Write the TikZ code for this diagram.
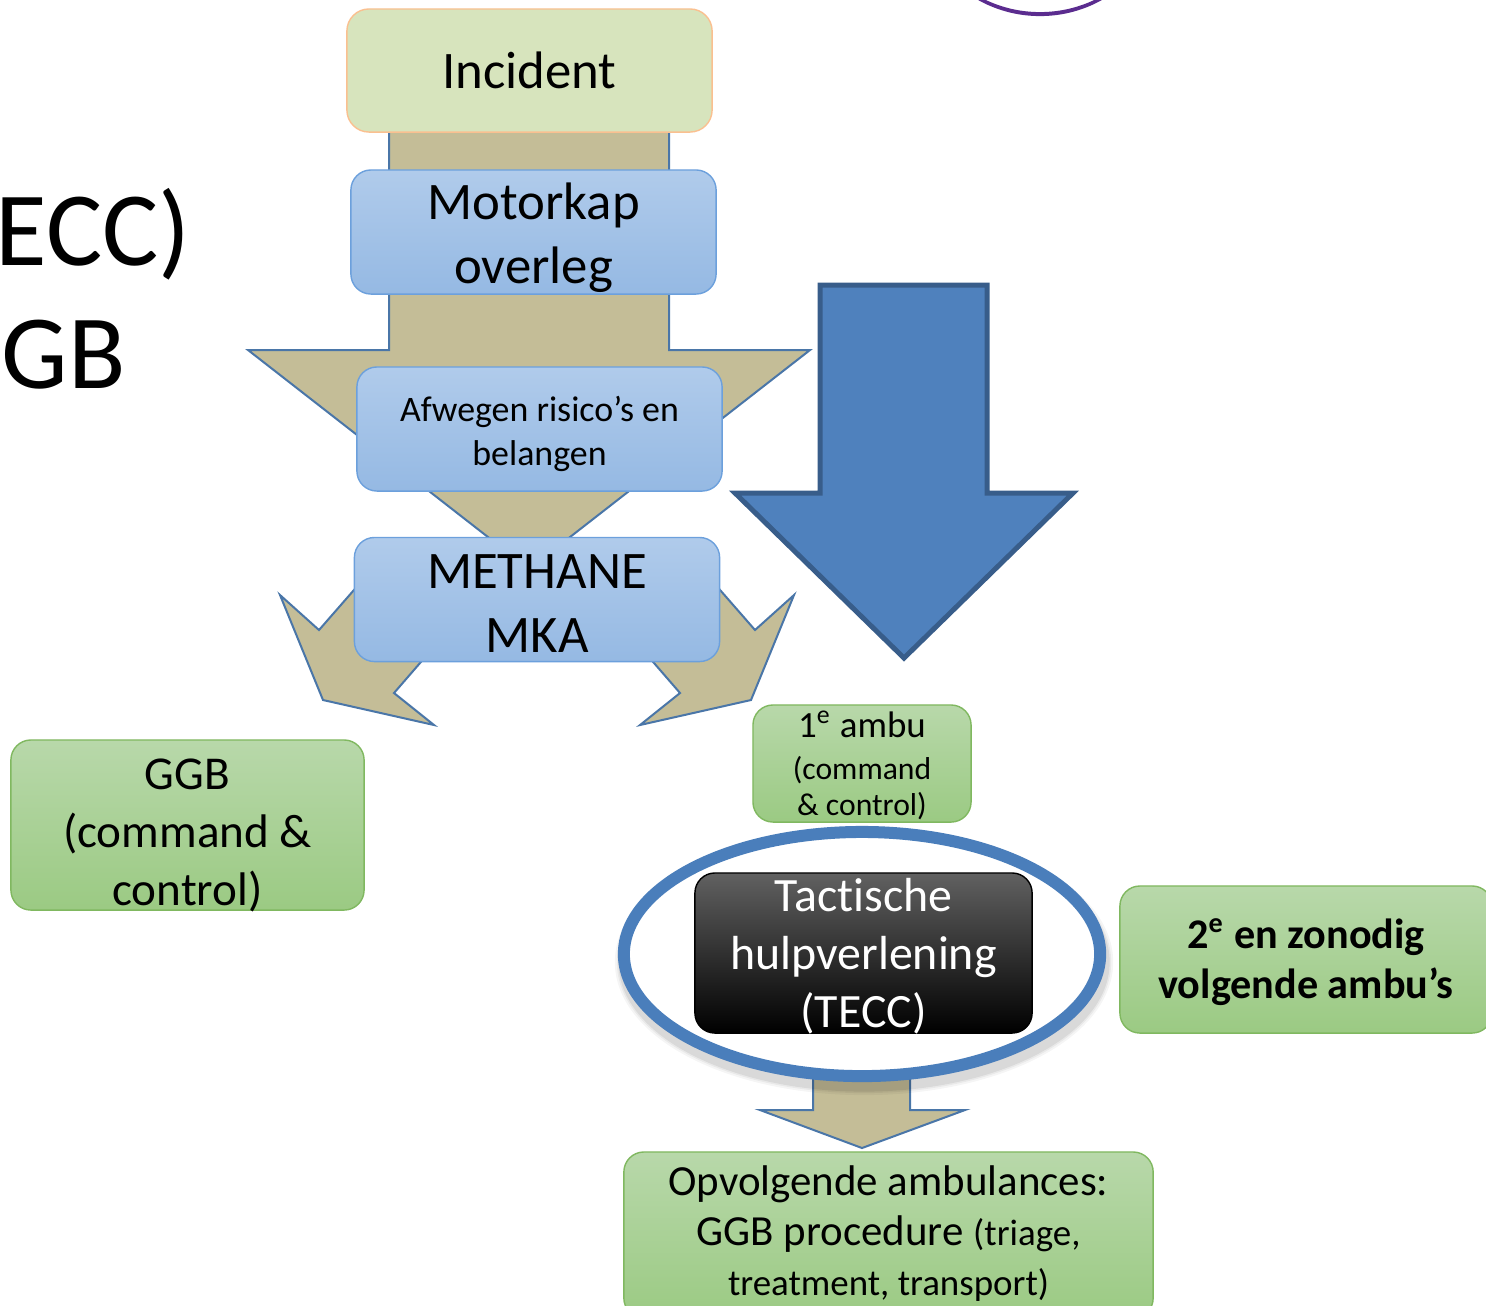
\documentclass[tikz,border=0pt]{standalone}
\usepackage{fontspec}
\setmainfont{Carlito}[Ligatures=NoCommon]
\usetikzlibrary{shapes.geometric}

\definecolor{arrowtan}{RGB}{196,189,151}
\definecolor{arrowline}{RGB}{74,118,168}
\definecolor{bigblue}{RGB}{79,129,189}
\definecolor{bigblueline}{RGB}{56,93,138}
\definecolor{blueA}{RGB}{176,203,235}
\definecolor{blueB}{RGB}{149,185,227}
\definecolor{blueline}{RGB}{108,160,220}
\definecolor{greenA}{RGB}{184,216,170}
\definecolor{greenB}{RGB}{155,202,131}
\definecolor{greenline}{RGB}{128,184,96}
\definecolor{incfill}{RGB}{215,228,189}
\definecolor{incline}{RGB}{250,192,144}
\definecolor{ringblue}{RGB}{74,126,187}
\definecolor{purpleline}{RGB}{91,44,143}

\begin{document}
\begin{tikzpicture}[x=0.01cm, y=-0.01cm,
    blockarrow/.style={fill=arrowtan, draw=arrowline, line width=0.02cm},
    bluebox/.style={draw=blueline, top color=blueA, bottom color=blueB, rounded corners=0.2cm,
        minimum width=3.65cm, minimum height=1.24cm, align=center, inner sep=0pt, text depth=0pt},
    greenbox/.style={draw=greenline, top color=greenA, bottom color=greenB, rounded corners=0.2cm,
        align=center, inner sep=0pt, text depth=0pt}]
    \useasboundingbox (0,0) rectangle (1486,1305);

    % cut-off pieces of the slide
    \fill[purpleline, even odd rule] (1040,-111) circle [radius=1.27cm] (1040,-115) circle [radius=1.27cm];
    \node[anchor=base west, inner sep=0pt, font=\fontsize{30}{36}\selectfont] (teccpart) at (-5,265) {ECC)};
    \node[anchor=base west, inner sep=0pt, font=\fontsize{30}{36}\selectfont] (ggbpart) at (1,388) {GB};

    % block arrows
    \draw[blockarrow] (389,110) -- (389,350) -- (248,350) -- (529,569) -- (810,350) -- (669,350) -- (669,110) -- cycle;
    \foreach \s in {1,-1}
        \draw[blockarrow, shift={(537,0)}, xscale=\s] (-156,559) -- (-218,630) -- (-257,595) -- (-214,700)
            -- (-103,725) -- (-143,693) -- (-91,633) -- cycle;
    \draw[fill=bigblue, draw=bigblueline, line width=0.05cm] (820,285) -- (987,285) -- (987,493) -- (1073,493)
        -- (904,658) -- (735,493) -- (820,493) -- cycle;
    \draw[blockarrow] (813,1070) -- (813,1110) -- (760,1110) -- (862,1148) -- (965,1110) -- (910,1110) -- (910,1070) -- cycle;

    % left column
    \node[draw=incline, fill=incfill, rounded corners=0.22cm, minimum width=3.65cm, minimum height=1.23cm,
        font=\fontsize{15}{18}\selectfont] (incident) at (529.5,70.5) {Incident};
    \node[bluebox, text height=1.02cm, font=\fontsize{15}{18}\selectfont] (motorkap) at (533.5,232) {Motorkap\\overleg};
    \node[bluebox, text height=0.72cm, font=\fontsize{10.2}{12.5}\selectfont] (afwegen) at (539.5,429) {Afwegen risico’s en\\belangen};
    \node[bluebox, text height=1.05cm, font=\fontsize{15}{18}\selectfont] (methane) at (537,599.5) {METHANE\\MKA};
    \node[greenbox, minimum width=3.53cm, minimum height=1.70cm, text height=1.6cm, font=\fontsize{13.4}{16.4}\selectfont]
        (ggb) at (187.5,825) {GGB\\(command \&\\control)};

    % right column
    \node[greenbox, minimum width=2.18cm, minimum height=1.17cm, text height=1.03cm, font=\fontsize{9}{10}\selectfont]
        (ambu1) at (862,763.5) {{\fontsize{10.5}{12}\selectfont 1\textsuperscript{e} ambu}\\[2pt](command\\\& control)};
    \foreach \w/\o in {0.22/0.04, 0.18/0.05, 0.15/0.07}
        \draw[black, opacity=\o, line width=\w cm] (864,962) ellipse [x radius=2.38cm, y radius=1.22cm];
    \node[ellipse, draw=ringblue, fill=white, line width=0.12cm, minimum width=4.76cm, minimum height=2.44cm]
        (ring) at (862,954) {};
    \node[draw=black, top color=black!62, middle color=black, bottom color=black, rounded corners=0.2cm,
        minimum width=3.37cm, minimum height=1.60cm, align=center, inner sep=0pt, text=white,
        text height=1.48cm, text depth=0pt, font=\fontsize{13.6}{16.4}\selectfont]
        (tecc) at (863.5,953) {Tactische\\hulpverlening\\(TECC)};
    \node[greenbox, minimum width=3.72cm, minimum height=1.47cm, text height=0.77cm, font=\bfseries\fontsize{12}{14.2}\selectfont]
        (ambu2) at (1306,959.5) {2\textsuperscript{e} en zonodig\\volgende ambu’s};
    \node[greenbox, minimum width=5.29cm, minimum height=1.66cm, text height=1.21cm, font=\fontsize{12.2}{14.2}\selectfont]
        (opvolg) at (888.5,1235) {Opvolgende ambulances:\\GGB procedure {\fontsize{10.5}{12}\selectfont (triage,}\\
        {\fontsize{10.5}{12}\selectfont treatment, transport)}};
\end{tikzpicture}
\end{document}
